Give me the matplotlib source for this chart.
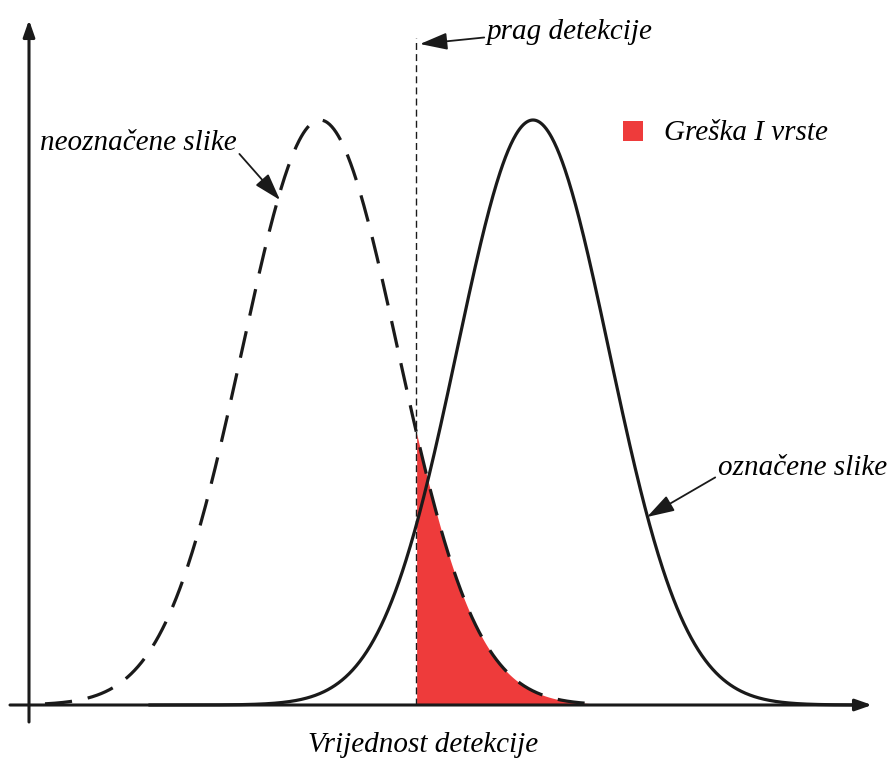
import matplotlib.pyplot as plt
import numpy as np

# parametri krivulja (očitano sa slike)
mu_neoznacene = 3.20
mu_oznacene = 5.33
sigma_neoznacene = 0.78
sigma_oznacene = 0.76
visina = 1.0
prag = 4.16
x_raspon_neg = [0.45, 6.0]
x_raspon_pos = [1.5, 8.60]

labels = ["neoznačene slike", "označene slike", "prag detekcije", "Greška I vrste"]
x_label = "Vrijednost detekcije"
red = '#ee3b3b'


def gauss(x, mu, sigma):
    return visina * np.exp(-0.5 * ((x - mu) / sigma) ** 2)


x_neg = np.linspace(x_raspon_neg[0], x_raspon_neg[1], 800)
x_pos = np.linspace(x_raspon_pos[0], x_raspon_pos[1], 800)
y_neg = gauss(x_neg, mu_neoznacene, sigma_neoznacene)
y_pos = gauss(x_pos, mu_oznacene, sigma_oznacene)

fig = plt.figure(figsize=(8.93, 7.6), dpi=100)
ax = fig.add_axes([0, 0, 1, 1])
ax.set_xlim(0, 8.93)
ax.set_ylim(-55 / 585, 705 / 585)
ax.axis('off')

font = dict(family='Liberation Serif', style='italic', size=21)

# greška I vrste
mask = x_neg >= prag
ax.fill_between(x_neg[mask], 0, y_neg[mask], color=red, lw=0, zorder=1)

# krivulje
ax.plot(x_neg, y_neg, color='#1a1a1a', lw=2.3, dashes=(8.5, 5), zorder=3)
ax.plot(x_pos, y_pos, color='#1a1a1a', lw=2.3, zorder=3)

# prag
ax.plot([prag, prag], [0, 667 / 585], color='#1a1a1a', lw=1.0, dashes=(5, 3), zorder=2)

# osi sa strelicama
ax.annotate('', xy=(8.72, 0), xytext=(0.10, 0),
            arrowprops=dict(arrowstyle='-|>,head_length=1.0,head_width=0.35',
                            color='#1a1a1a', lw=2.2, shrinkA=0, shrinkB=0), zorder=4)
ax.annotate('', xy=(0.29, 685 / 585), xytext=(0.29, -17 / 585),
            arrowprops=dict(arrowstyle='-|>,head_length=1.0,head_width=0.35',
                            color='#1a1a1a', lw=2.2, shrinkA=0, shrinkB=0), zorder=4)

# oznake
arrow = dict(arrowstyle='-|>,head_length=0.8,head_width=0.25', color='#1a1a1a',
             lw=1.3, shrinkA=0, shrinkB=0)
ax.annotate(labels[0], xy=(2.80, 505 / 585), xytext=(0.40, 562 / 585),
            ha='left', va='center', arrowprops=dict(arrow, relpos=(1.0, 0.2)), **font)
ax.annotate(labels[1], xy=(6.47, 188 / 585), xytext=(7.18, 237 / 585),
            ha='left', va='center', arrowprops=dict(arrow, relpos=(0.0, 0.2)), **font)
ax.annotate(labels[2], xy=(4.20, 661 / 585), xytext=(4.87, 673 / 585),
            ha='left', va='center', arrowprops=dict(arrow, relpos=(0.0, 0.3)), **font)

# legenda
ax.scatter([6.33], [574 / 585], marker='s', s=200, color=red, linewidths=0)
ax.text(6.64, 572 / 585, labels[3], ha='left', va='center', **font)

ax.text(4.23, -40 / 585, x_label, ha='center', va='center', **font)

fig.savefig('out.png', dpi=100)
